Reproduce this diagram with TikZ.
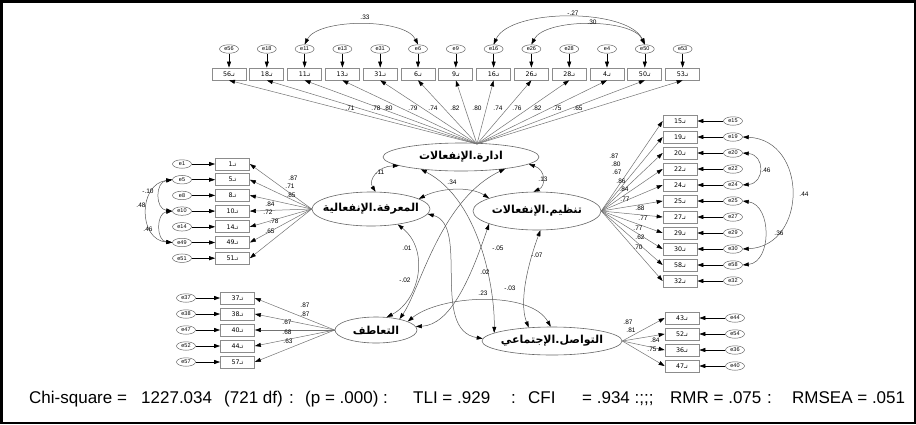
\documentclass[tikz,border=0pt]{standalone}
\usepackage{fontspec}
\setmainfont{Liberation Sans}
\newfontfamily\arb[Script=Arabic]{DejaVu Sans}
\usetikzlibrary{arrows.meta,shapes.geometric}
\TeXXeTstate=1
\newcommand{\bxt}[1]{{\arb\fontsize{6.3}{6.3}\selectfont تـ#1}}
\newcommand{\latt}[1]{\makebox[0pt]{\hbox{\beginR #1\endR}}}
\tikzset{
  >={Triangle[length=6pt,width=4pt,color=black]},
  lat/.style={ellipse, draw=black!60, line width=0.6pt, inner sep=0pt, font=\arb\bfseries\fontsize{11}{12}\selectfont},
  ind/.style={rectangle, draw=black!45, line width=0.7pt, minimum width=34pt, minimum height=12pt, inner sep=0pt},
  err/.style={ellipse, draw=black!60, line width=0.5pt, minimum width=19pt, minimum height=8.5pt, inner sep=0pt, font=\fontsize{5.5}{5.5}\selectfont},
  ld/.style={draw=black!55, line width=0.5pt, ->},
  eline/.style={draw=black, line width=0.6pt, ->},
  cov/.style={draw=black!65, line width=0.5pt, <->},
  lab/.style={font=\fontsize{6.5}{7}\selectfont, inner sep=0pt},
  stat/.style={font=\fontsize{17}{18}\selectfont, inner sep=0pt, anchor=base west},
}
\begin{document}
\begin{tikzpicture}[x=1pt,y=-1pt]
\useasboundingbox (0,0) rectangle (916,424);
\draw[line width=2.5pt] (1.25,1.25) rectangle (914.75,422.75);

% latent variables
\node[lat, minimum width=156pt, minimum height=28pt] (A) at (461,157) {\latt{ادارة.الإنفعالات}};
\node[lat, minimum width=118pt, minimum height=34pt] (M) at (371,209) {\latt{المعرفة.الإنفعالية}};
\node[lat, minimum width=128pt, minimum height=38pt] (T) at (537,211) {\latt{تنظيم.الإنفعالات}};
\node[lat, minimum width=82pt, minimum height=26pt] (S) at (376,330) {\latt{التعاطف}};
\node[lat, minimum width=140pt, minimum height=28pt] (W) at (552,341) {\latt{التواصل.الإجتماعي}};
\coordinate (Atop) at (477,144);

% top indicators
\foreach \n [count=\i from 0] in {56,18,11,13,31,6,9,16,26,28,4,50,53}{
  \node[ind] (tb\n) at ({229+37.8*\i},74) {\bxt{\n}};
  \node[err] (te\n) at ({229+37.8*\i},49) {e\n};
  \draw[eline] (te\n) -- (tb\n);
  \draw[ld] (Atop) -- (tb\n.south);
}
% left indicators (M)
\foreach \n [count=\i from 0] in {1,5,8,10,14,49,51}{
  \node[ind] (mb\n) at (232.5,{164+15.7*\i}) {\bxt{\n}};
  \node[err] (me\n) at (182,{164+15.7*\i}) {e\n};
  \draw[eline] (me\n) -- (mb\n);
  \draw[ld] (M.west) -- (mb\n.east);
}
% right indicators (T)
\foreach \n [count=\i from 0] in {15,19,20,22,24,25,27,29,30,58,32}{
  \node[ind] (rb\n) at (680,{121+16*\i}) {\bxt{\n}};
  \node[err] (re\n) at (733,{121+16*\i}) {e\n};
  \draw[eline] (re\n) -- (rb\n);
  \draw[ld] (T.east) -- (rb\n.west);
}
% bottom-left indicators (S)
\foreach \n/\e [count=\i from 0] in {37/37,38/38,40/47,44/52,57/57}{
  \node[ind] (sb\n) at (237.5,{298+16*\i}) {\bxt{\n}};
  \node[err] (se\e) at (186,{298+16*\i}) {e\e};
  \draw[eline] (se\e) -- (sb\n);
  \draw[ld] (S.west) -- (sb\n.east);
}
% bottom-right indicators (W)
\foreach \n/\e [count=\i from 0] in {43/44,52/54,36/36,47/40}{
  \node[ind] (wb\n) at (682,{318+16*\i}) {\bxt{\n}};
  \node[err] (we\e) at (735,{318+16*\i}) {e\e};
  \draw[eline] (we\e) -- (wb\n);
  \draw[ld] (W.east) -- (wb\n.west);
}

% error covariances
\draw[cov] (te11.north) .. controls (318,18) and (405,18) .. (te6.north);
\draw[cov] (te16.north) .. controls (510,8) and (628,8) .. (te50.north);
\draw[cov] (te26.north) .. controls (545,18) and (632,18) .. (te50.north);
\draw[cov] (me5.west) .. controls (155,182) and (155,209) .. (me10.west);
\draw[cov] (me5.west) .. controls (138,184) and (138,240) .. (me49.west);
\draw[cov] (me10.west) .. controls (156,213) and (156,241) .. (me49.west);
\draw[cov] (re20.east) .. controls (765,155) and (765,183) .. (re24.east);
\draw[cov] (re19.east) .. controls (808,140) and (808,246) .. (re30.east);
\draw[cov] (re25.east) .. controls (772,205) and (772,262) .. (re58.east);

% latent covariances
\draw[cov] (A.188) .. controls (378,166) and (368,180) .. (M.75);
\draw[cov] (A.-6) .. controls (546,170) and (546,186) .. (T.100);
\draw[cov] (M.12) .. controls (440,188) and (470,186) .. (T.165);
\draw[cov] (S.15) .. controls (440,295) and (530,290) .. (W.95);
\draw[cov] (A.-15) .. controls (440,200) and (420,290) .. (S.25);
\draw[cov] (A.197) .. controls (480,200) and (495,290) .. (W.172);
\draw[cov] (M.-5) .. controls (470,225) and (430,330) .. (W.178);
\draw[cov] (M.-30) .. controls (430,250) and (420,300) .. (S.50);
\draw[cov] (T.195) .. controls (470,280) and (450,325) .. (S.5);
\draw[cov] (T.-80) .. controls (530,258) and (518,300) .. (W.150);

% labels: top loadings
\foreach \x/\v in {350/.71,376/.78,388/.80,413/.79,433/.74,455/.82,477/.80,498/.74,517/.76,537/.82,557/.75,578/.65}
  \node[lab] (tl\x) at (\x,108) {\v};
% left loadings
\foreach \x/\y/\v in {293/178/.87,290/186/.71,291/195/.85,270/204/.84,268/212/.72,274/221/.78,270/231/.65}
  \node[lab] (ml\y) at (\x,\y) {\v};
% right loadings
\foreach \x/\y/\v in {614/156/.87,616/164/.80,617/172/.67,621/181/.86,624/189/.84,625/199/.77,640/208/.88,643/218/.77,638/228/.77,640/237/.62,638/247/.70}
  \node[lab] (rl\y) at (\x,\y) {\v};
% S loadings
\foreach \x/\y/\v in {305/305/.87,305/314/.87,287/322/.67,287/332/.68,288/341/.63}
  \node[lab] (sl\y) at (\x,\y) {\v};
% W loadings
\foreach \x/\y/\v in {628/322/.87,631/330/.81,655/340/.84,652/349/.75}
  \node[lab] (wl\y) at (\x,\y) {\v};
% covariance labels
\foreach \x/\y/\v [count=\k] in {380/172/.11,543/179/.13,452/182/.34,407/248/.01,405/280/-.02,485/272/.02,498/248/-.05,537/255/-.07,483/293/.23,510/288/-.03,365/17/.33,573/13/-.27,592/22/.30,148/191/-.10,141/205/.48,148/229/.46,766/170/.46,804/194/.44,779/233/.36}
  \node[lab] (cl\k) at (\x,\y) {\v};

% fit statistics
\foreach \x/\t [count=\k] in {29/{Chi-square =},141/{1227.034},224/{(721 df)},289/{:},305/{(p = .000) :},413/{TLI = .929},511/{:},528/{CFI},582/{= .934 :;;;},670/{RMR = .075},767/{:},792/{RMSEA = .051}}
  \node[stat] (fs\k) at (\x,403) {\t};
\end{tikzpicture}
\end{document}
